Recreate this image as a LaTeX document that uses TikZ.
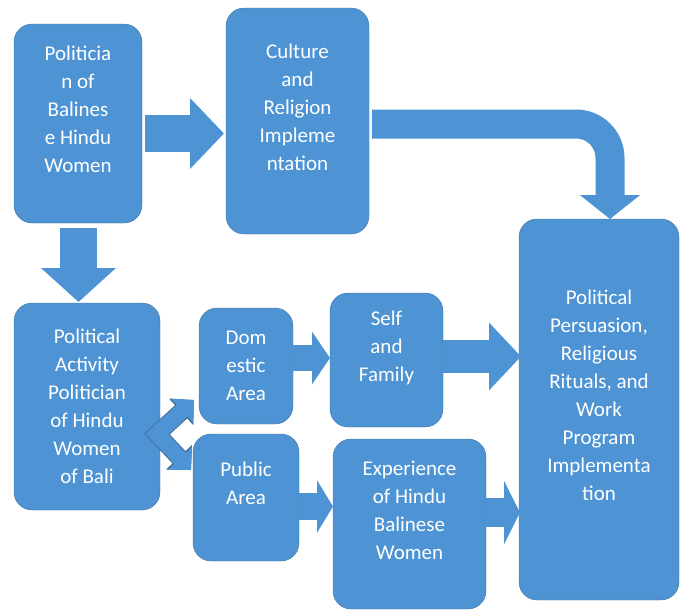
\documentclass[tikz,border=0pt]{standalone}
\usepackage{fontspec}
\setmainfont{Carlito}
\usetikzlibrary{arrows.meta}

\definecolor{boxblue}{RGB}{78,148,212}
\definecolor{boxedge}{RGB}{65,113,156}

\begin{document}
\begin{tikzpicture}[x=1pt,y=-1pt,>={Triangle}]
    \tikzstyle{stage}=[rectangle,draw=boxedge,fill=boxblue,text=white,rounded corners=18pt,align=center,inner sep=0pt,outer sep=0pt,font=\fontsize{21}{28}\selectfont]
    \tikzstyle{flow}=[draw=boxblue,line join=miter]

    \useasboundingbox (0,0) rectangle (681,616);

    \begin{scope}
      \node [stage, minimum width=128pt, minimum height=199pt] at (78, 123.5) (pol) {Politicia\\n of\\Balines\\e Hindu\\Women\\\mbox{}};
      \node [stage, minimum width=143pt, minimum height=226pt] at (297.5, 121) (cult) {Culture\\and\\Religion\\Impleme\\ntation\\\mbox{}};
      \node [stage, minimum width=146pt, minimum height=207pt] at (87, 406.5) (act) {Political\\Activity\\Politician\\of Hindu\\Women\\of Bali};
      \node [stage, minimum width=94pt, minimum height=116pt] at (246, 366) (dom) {Dom\\estic\\Area};
      \node [stage, minimum width=113pt, minimum height=134pt] at (386.5, 360) (self) {Self\\and\\Family\\\mbox{}};
      \node [stage, minimum width=106pt, minimum height=127pt] at (246, 497.5) (pub) {Public\\Area\\\mbox{}};
      \node [stage, minimum width=153pt, minimum height=170pt] at (409.5, 524) (exp) {Experience\\of Hindu\\Balinese\\Women\\\mbox{}};
      \node [stage, minimum width=160pt, minimum height=381pt] at (599, 409.5) (goal) {Political\\Persuasion,\\Religious\\Rituals, and\\Work\\Program\\Implementa\\tion\\\mbox{}};

      % block arrows
      \draw [flow, line width=37pt, -{Triangle[length=34pt,width=69pt]}] ([xshift=3pt,yshift=-10pt]pol.east) -- ([xshift=-2pt,yshift=-12.5pt]cult.west);
      \draw [flow, line width=37pt, -{Triangle[length=34pt,width=73pt]}] ([xshift=0.5pt,yshift=-5pt]pol.south) -- ([xshift=0.5pt,yshift=1pt]pol.south |- act.north);
      \draw [flow, line width=26pt, -{Triangle[length=18pt,width=52pt]}] ([yshift=8pt]dom.east) -- ([yshift=2pt]self.west);
      \draw [flow, line width=33pt, -{Triangle[length=32pt,width=66pt]}] ([yshift=3.5pt]self.east) -- ([xshift=2pt,yshift=53pt]goal.west);
      \draw [flow, line width=27pt, -{Triangle[length=16pt,width=52pt]}] ([yshift=-9pt]pub.east) -- ([yshift=17.5pt]exp.west);
      \draw [flow, line width=29pt, -{Triangle[length=16pt,width=63pt]}] ([yshift=11.5pt]exp.east) -- ([xshift=1pt,yshift=-103pt]goal.west);
      \draw [flow, line width=29pt, rounded corners=34pt, -{Triangle[length=24pt,width=59pt]}] ([xshift=3pt,yshift=-3pt]cult.east) -| ([xshift=11pt]goal.north);

      % two-way split, sits over the activity box
      \coordinate (split) at ([xshift=-3pt,yshift=-27.5pt]act.east);
      \draw [flow, line width=16pt, {Triangle[length=16pt,width=32pt]}-{Triangle[length=16pt,width=32pt]},
             preaction={draw=boxedge, line width=18pt, {Triangle[length=17.5pt,width=35pt]}-{Triangle[length=17.5pt,width=35pt]}}]
        ([xshift=-5pt,yshift=-34pt]dom.west) -- (split) -- ([xshift=-2pt,yshift=27.5pt]pub.west);
    \end{scope}

\end{tikzpicture}
\end{document}
